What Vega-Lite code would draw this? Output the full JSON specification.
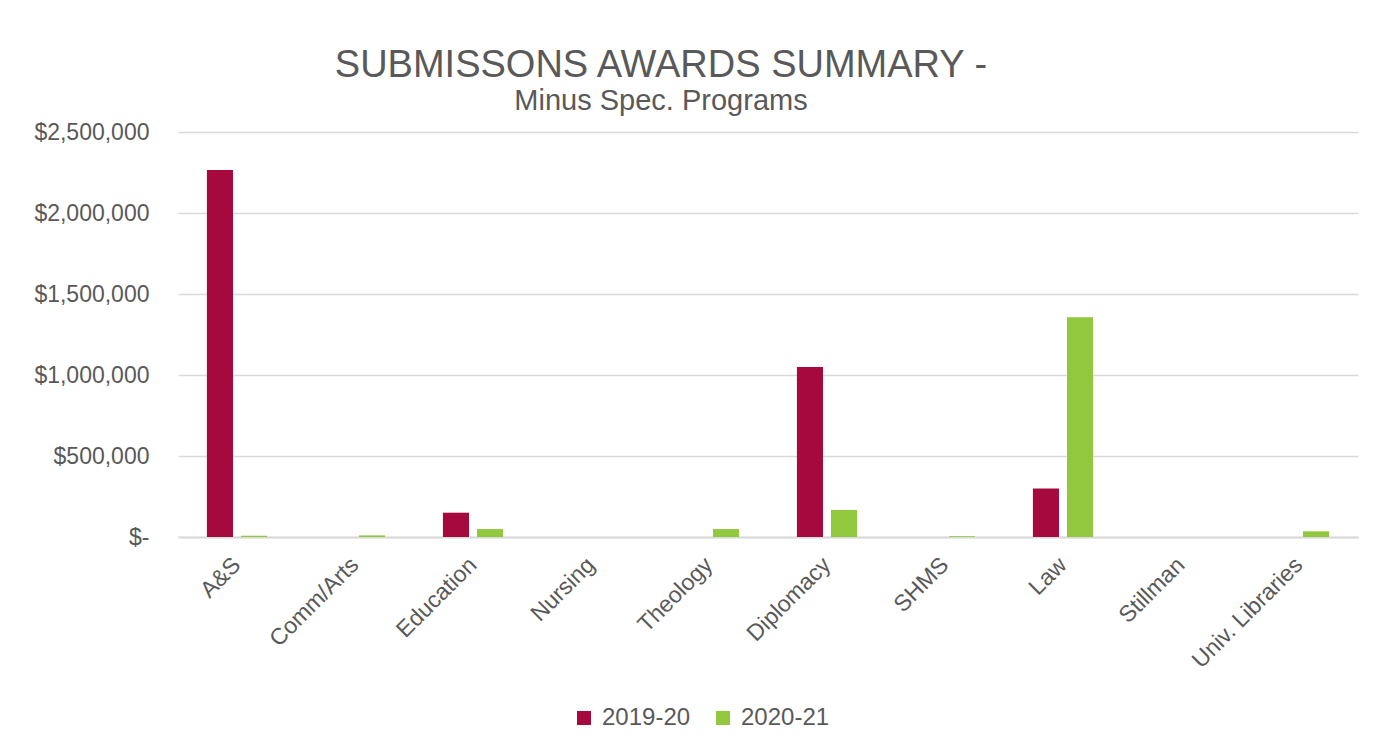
{
  "$schema": "https://vega.github.io/schema/vega-lite/v6.json",
  "width": 1180,
  "height": 405,
  "autosize": {"type": "none"},
  "padding": {"left": 178, "top": 132, "right": 34, "bottom": 218},
  "background": "white",
  "title": {
    "text": "SUBMISSONS AWARDS SUMMARY -",
    "subtitle": "Minus Spec. Programs",
    "anchor": "middle",
    "frame": "group",
    "dx": -107,
    "offset": 5,
    "font": "Liberation Sans",
    "fontSize": 38,
    "fontWeight": "normal",
    "color": "#595959",
    "subtitleFont": "Liberation Sans",
    "subtitleFontSize": 29,
    "subtitleColor": "#595959",
    "subtitlePadding": 2
  },
  "data": {
    "values": [
      {"dept": "A&S", "year": "2019-20", "amount": 2265000},
      {"dept": "A&S", "year": "2020-21", "amount": 8000},
      {"dept": "Comm/Arts", "year": "2019-20", "amount": 0},
      {"dept": "Comm/Arts", "year": "2020-21", "amount": 10000},
      {"dept": "Education", "year": "2019-20", "amount": 150000},
      {"dept": "Education", "year": "2020-21", "amount": 49000},
      {"dept": "Nursing", "year": "2019-20", "amount": 0},
      {"dept": "Nursing", "year": "2020-21", "amount": 0},
      {"dept": "Theology", "year": "2019-20", "amount": 0},
      {"dept": "Theology", "year": "2020-21", "amount": 49000},
      {"dept": "Diplomacy", "year": "2019-20", "amount": 1050000},
      {"dept": "Diplomacy", "year": "2020-21", "amount": 167000},
      {"dept": "SHMS", "year": "2019-20", "amount": 0},
      {"dept": "SHMS", "year": "2020-21", "amount": 5000},
      {"dept": "Law", "year": "2019-20", "amount": 300000},
      {"dept": "Law", "year": "2020-21", "amount": 1356000},
      {"dept": "Stillman", "year": "2019-20", "amount": 0},
      {"dept": "Stillman", "year": "2020-21", "amount": 0},
      {"dept": "Univ. Libraries", "year": "2019-20", "amount": 0},
      {"dept": "Univ. Libraries", "year": "2020-21", "amount": 35000}
    ]
  },
  "mark": {"type": "bar"},
  "encoding": {
    "x": {
      "field": "dept",
      "type": "nominal",
      "sort": null,
      "scale": {"paddingInner": 0.49, "paddingOuter": 0.245},
      "axis": {
        "title": null,
        "labelAngle": -45,
        "labelAlign": "right",
        "labelBaseline": "middle",
        "labelPadding": 24,
        "labelFont": "Liberation Sans",
        "labelFontSize": 23,
        "labelColor": "#595959",
        "ticks": false,
        "domain": true,
        "domainColor": "#D9D9D9",
        "domainWidth": 2,
        "grid": false
      }
    },
    "xOffset": {
      "field": "year",
      "type": "nominal",
      "scale": {"paddingInner": 0.235, "paddingOuter": 0}
    },
    "y": {
      "field": "amount",
      "type": "quantitative",
      "scale": {"domain": [0, 2500000], "nice": false},
      "axis": {
        "title": null,
        "values": [0, 500000, 1000000, 1500000, 2000000, 2500000],
        "labelExpr": "datum.value == 0 ? '$-\u00a0\u00a0' : '$' + format(datum.value, ',')",
        "labelFont": "Liberation Sans",
        "labelFontSize": 23,
        "labelColor": "#595959",
        "labelPadding": 29,
        "ticks": false,
        "domain": false,
        "grid": true,
        "gridColor": "#D9D9D9",
        "gridWidth": 1.5
      }
    },
    "color": {
      "field": "year",
      "type": "nominal",
      "scale": {"domain": ["2019-20", "2020-21"], "range": ["#A6093D", "#92C83E"]},
      "legend": {
        "title": null,
        "orient": "none",
        "direction": "horizontal",
        "legendX": 394,
        "legendY": 574,
        "symbolType": "square",
        "symbolSize": 196,
        "symbolStrokeWidth": 0,
        "symbolOpacity": 1,
        "labelFont": "Liberation Sans",
        "labelFontSize": 24,
        "labelColor": "#595959",
        "labelOffset": 6,
        "columnPadding": 20,
        "padding": 0
      }
    }
  },
  "config": {
    "view": {"stroke": null}
  }
}
